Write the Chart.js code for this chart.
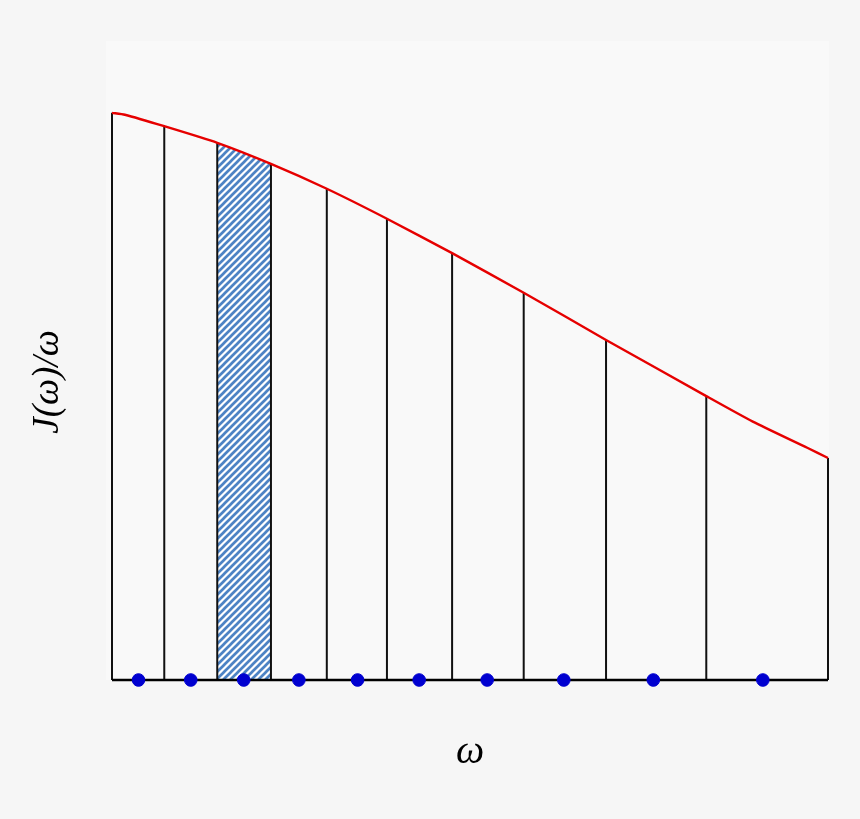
<!DOCTYPE html>
<html lang="en">
<head>
    <meta charset="UTF-8">
    <title>J(ω)/ω</title>
    <script src="https://cdn.jsdelivr.net/npm/chart.js"></script>
    <style>
        html, body { margin:0; padding:0; background:#f6f6f6; }
        #wrap { width:860px; height:819px; }
    </style>
</head>
<body>
    <div id="wrap"><canvas id="myChart" width="860" height="819"></canvas></div>

    <script>
        // partition edges (omega) and the height of J(w)/w at each edge
        const edgeX   = [0, 0.73, 1.47, 2.22, 3.00, 3.84, 4.75, 5.75, 6.90, 8.30, 10.0];
        const edgeTop = [8.89, 8.68, 8.42, 8.09, 7.70, 7.23, 6.69, 6.07, 5.33, 4.45, 3.48];

        // red curve samples
        const curveX = [0, 0.18, 0.73, 1.47, 2.22, 3.00, 3.84, 4.75, 5.75, 6.90, 8.30, 8.95, 9.71, 10.0];
        const curveY = [8.89, 8.86, 8.68, 8.42, 8.09, 7.70, 7.23, 6.69, 6.07, 5.33, 4.45, 4.05, 3.64, 3.48];

        // sample points (blue dots) on the axis
        const sampleX = [0.37, 1.10, 1.84, 2.61, 3.43, 4.29, 5.24, 6.31, 7.56, 9.09];

        // index of the hatched strip
        const hatchIdx = 2;

        const xTitle = 'ω';
        const yTitle = 'J(ω)/ω';

        // hatch pattern
        const makeHatch = () => {
            var s = 7;
            var c = document.createElement('canvas');
            c.width = s; c.height = s;
            var g = c.getContext('2d');
            g.fillStyle = '#ffffff';
            g.fillRect(0, 0, s, s);
            g.strokeStyle = '#4d83c4';
            g.lineWidth = 2.7;
            g.beginPath();
            g.moveTo(-s/2, s/2); g.lineTo(s/2, -s/2);
            g.moveTo(0, s); g.lineTo(s, 0);
            g.moveTo(s/2, s*1.5); g.lineTo(s*1.5, s/2);
            g.stroke();
            return g.createPattern(c, 'repeat');
        };

        const toPts = (xs, ys) => xs.map((x, i) => ({x: x, y: ys[i]}));

        // vertical edges, separated by gaps
        const edgePts = [];
        edgeX.forEach((x, i) => {
            edgePts.push({x: x, y: 0});
            edgePts.push({x: x, y: edgeTop[i]});
            edgePts.push({x: x, y: null});
        });

        var ctx = document.querySelector('#myChart').getContext('2d');

        const decor = {
            id: 'decor',
            beforeDraw(chart) {
                const g = chart.ctx, a = chart.chartArea;
                g.save();
                g.fillStyle = '#f6f6f6';
                g.fillRect(0, 0, chart.width, chart.height);
                g.fillStyle = '#f9f9f9';
                g.fillRect(a.left - 6, a.top - 1, a.right - a.left + 7, a.bottom - a.top + 1);
                g.restore();
            },
            afterDraw(chart) {
                const g = chart.ctx, a = chart.chartArea;
                g.save();
                g.fillStyle = '#000';
                g.textAlign = 'center';
                g.textBaseline = 'middle';
                g.font = 'italic 40px "Liberation Serif", "DejaVu Serif", serif';
                g.fillText(xTitle, (a.left + a.right) / 2, a.bottom + 72);
                g.font = 'italic 37px "Liberation Serif", "DejaVu Serif", serif';
                g.translate(a.left - 64, 382);
                g.rotate(-Math.PI / 2);
                g.fillText(yTitle, 0, 0);
                g.restore();
            }
        };

        var myChart = new Chart(ctx, {
            type: 'scatter',
            data: {
                datasets: [
                    {
                        label: 'samples',
                        data: sampleX.map(x => ({x: x, y: 0})),
                        backgroundColor: '#0000d0',
                        borderColor: '#0000d0',
                        pointRadius: 6.3,
                        order: 0
                    },
                    {
                        label: 'axis',
                        type: 'line',
                        data: [{x: edgeX[0], y: 0}, {x: edgeX[edgeX.length - 1], y: 0}],
                        borderColor: '#000',
                        borderWidth: 2.5,
                        pointRadius: 0,
                        order: 1
                    },
                    {
                        label: 'J/w',
                        type: 'line',
                        data: toPts(curveX, curveY),
                        borderColor: '#e60000',
                        borderWidth: 2.4,
                        pointRadius: 0,
                        tension: 0.2,
                        order: 2
                    },
                    {
                        label: 'edges',
                        type: 'line',
                        data: edgePts,
                        borderColor: '#111',
                        borderWidth: 2,
                        pointRadius: 0,
                        spanGaps: false,
                        order: 3
                    },
                    {
                        label: 'strip',
                        type: 'line',
                        data: [{x: edgeX[hatchIdx], y: edgeTop[hatchIdx]}, {x: edgeX[hatchIdx + 1], y: edgeTop[hatchIdx + 1]}],
                        borderWidth: 0,
                        pointRadius: 0,
                        fill: 'origin',
                        backgroundColor: makeHatch(),
                        order: 4
                    }
                ]
            },
            options: {
                responsive: false,
                animation: false,
                layout: { padding: { left: 112, right: 32, top: 42, bottom: 139 }, autoPadding: false },
                plugins: { legend: { display: false }, tooltip: { enabled: false } },
                scales: {
                    x: { type: 'linear', min: 0, max: 10, display: false },
                    y: { type: 'linear', min: 0, max: 10, display: false }
                },
                clip: false
            },
            plugins: [decor]
        });
    </script>
</body>
</html>
